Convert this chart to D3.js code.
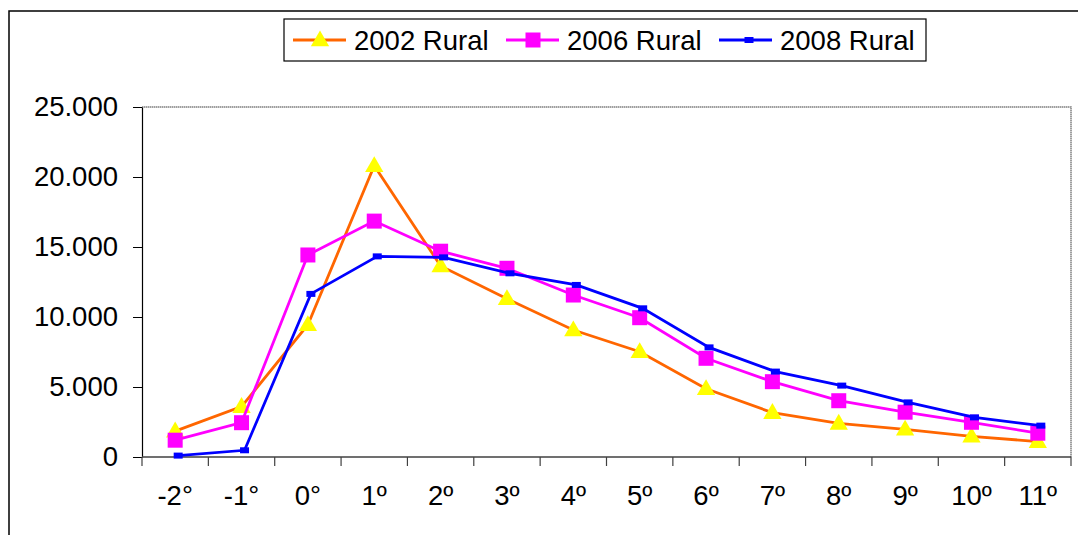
<!doctype html>
<html>
<head>
<meta charset="utf-8">
<title>Rural</title>
<style>
  body { margin: 0; background: #fff; }
  text { font-family: "Liberation Sans", Arial, sans-serif; fill: #000; }
</style>
</head>
<body>
<div id="here"></div>
<script src="https://d3js.org/d3.v7.min.js"></script>
<script>
var categorias = ["-2°", "-1°", "0°", "1º", "2º", "3º", "4º", "5º", "6º", "7º", "8º", "9º", "10º", "11º"];
var rural2002 = [1850, 3600, 9450, 20800, 13650, 11300, 9070, 7520, 4870, 3170, 2400, 1980, 1480, 1100];
var rural2006 = [1200, 2450, 14430, 16850, 14700, 13480, 11570, 9950, 7050, 5380, 4020, 3200, 2480, 1700];
var rural2008 = [100, 480, 11650, 14330, 14260, 13120, 12290, 10620, 7830, 6100, 5100, 3900, 2830, 2240];
var yTicks = [0, 5000, 10000, 15000, 20000, 25000];
var nombres = ["2002 Rural", "2006 Rural", "2008 Rural"];

var w = 1078, h = 535;
var mIzq = 142, mDer = 1071, mSup = 107, mInf = 457;

var svg = d3.select("#here").append("svg")
  .attr("width", w)
  .attr("height", h)
  .style("background", "#fff");

// marco exterior
svg.append("rect")
  .attr("x", 9).attr("y", 11)
  .attr("width", w + 20).attr("height", h + 20)
  .attr("fill", "none").attr("stroke", "#000").attr("stroke-width", 1.5);

var x = d3.scaleBand().domain(categorias).range([mIzq, mDer]);
var y = d3.scaleLinear().domain([0, 25000]).range([mInf, mSup]);

var es = d3.formatLocale({ decimal: ",", thousands: ".", grouping: [3], currency: ["", ""] });
var fmt = es.format(",");

// borde del area de trazado (arriba y derecha)
svg.append("path")
  .attr("d", "M" + mIzq + "," + mSup + "H" + mDer + "V" + mInf)
  .attr("fill", "none").attr("stroke", "#808080").attr("stroke-width", 1.5)
  .attr("stroke-dasharray", "1.5,0.5");

// eje y
var gy = svg.append("g")
  .attr("transform", "translate(" + mIzq + ",0)")
  .call(d3.axisLeft(y).tickValues(yTicks).tickFormat(fmt).tickSize(9).tickSizeOuter(0).tickPadding(15));
gy.select(".domain").attr("stroke", "#000").attr("stroke-width", 1.2);
gy.selectAll(".tick line").attr("stroke", "#000");
gy.selectAll("text").attr("font-size", 27.5).attr("fill", "#000")
  .style("font-family", "'Liberation Sans', Arial, sans-serif");

// eje x: marcas entre categorias
var gx = svg.append("g").attr("transform", "translate(0," + mInf + ")");
gx.append("line").attr("x1", mIzq).attr("x2", mDer)
  .attr("stroke", "#404040").attr("stroke-width", 1.5);
var bordes = categorias.map(function(c) { return x(c); }).concat([mDer]);
gx.selectAll("line.tk").data(bordes).enter().append("line")
  .attr("class", "tk")
  .attr("x1", function(d) { return d; }).attr("x2", function(d) { return d; })
  .attr("y1", 0).attr("y2", 9)
  .attr("stroke", "#404040").attr("stroke-width", 1.2);
gx.selectAll("text").data(categorias).enter().append("text")
  .attr("x", function(d) { return x(d) + x.bandwidth() / 2; })
  .attr("y", 48)
  .attr("text-anchor", "middle")
  .attr("font-size", 27.5)
  .text(function(d) { return d; });

var cx = function(d, i) { return x(categorias[i]) + x.bandwidth() / 2; };
var series = [
  { nombre: nombres[0], valores: rural2002, linea: "#FF6600", marca: "tri", relleno: "#FFFF00", dx: 0 },
  { nombre: nombres[1], valores: rural2006, linea: "#FF00FF", marca: "sq", relleno: "#FF00FF", dx: 0 },
  { nombre: nombres[2], valores: rural2008, linea: "#0000FF", marca: "dash", relleno: "#0000FF", dx: 3 }
];

var tri = d3.symbol().type(d3.symbolTriangle).size(145);

function marca(g, s) {
  if (s.marca == "tri") {
    g.append("path").attr("d", tri).attr("fill", s.relleno).attr("transform", "translate(0,1)");
  } else if (s.marca == "sq") {
    g.append("rect").attr("x", -7.5).attr("y", -7.5).attr("width", 15).attr("height", 15).attr("fill", s.relleno);
  } else {
    g.append("rect").attr("x", -4.5).attr("y", -3).attr("width", 9).attr("height", 6).attr("fill", s.relleno);
  }
}

series.forEach(function(s) {
  var linea = d3.line()
    .x(function(d, i) { return cx(d, i) + s.dx; })
    .y(function(d) { return y(d); });
  var g = svg.append("g");
  g.append("path")
    .attr("d", linea(s.valores))
    .attr("fill", "none")
    .attr("stroke", s.linea)
    .attr("stroke-width", 2.8);
  g.selectAll("g.m").data(s.valores).enter().append("g")
    .attr("class", "m")
    .attr("transform", function(d, i) { return "translate(" + (cx(d, i) + s.dx) + "," + y(d) + ")"; })
    .each(function() { marca(d3.select(this), s); });
});

// leyenda
var ley = svg.append("g");
ley.append("rect")
  .attr("x", 284).attr("y", 19).attr("width", 642).attr("height", 42)
  .attr("fill", "#fff").attr("stroke", "#000").attr("stroke-width", 1.2);
var item = ley.selectAll("g.it").data(series).enter().append("g")
  .attr("class", "it")
  .attr("transform", function(d, i) { return "translate(" + (293 + i * 213) + ",40)"; });
item.append("line")
  .attr("x1", 0).attr("x2", 53)
  .attr("stroke", function(d) { return d.linea; })
  .attr("stroke-width", 2.8);
item.append("g")
  .attr("transform", function(d) { return "translate(" + (27 + d.dx) + ",0)"; })
  .each(function(s) { marca(d3.select(this), s); });
item.append("text")
  .attr("x", 61).attr("y", 10)
  .attr("font-size", 27.5)
  .text(function(d) { return d.nombre; });
</script>
</body>
</html>
